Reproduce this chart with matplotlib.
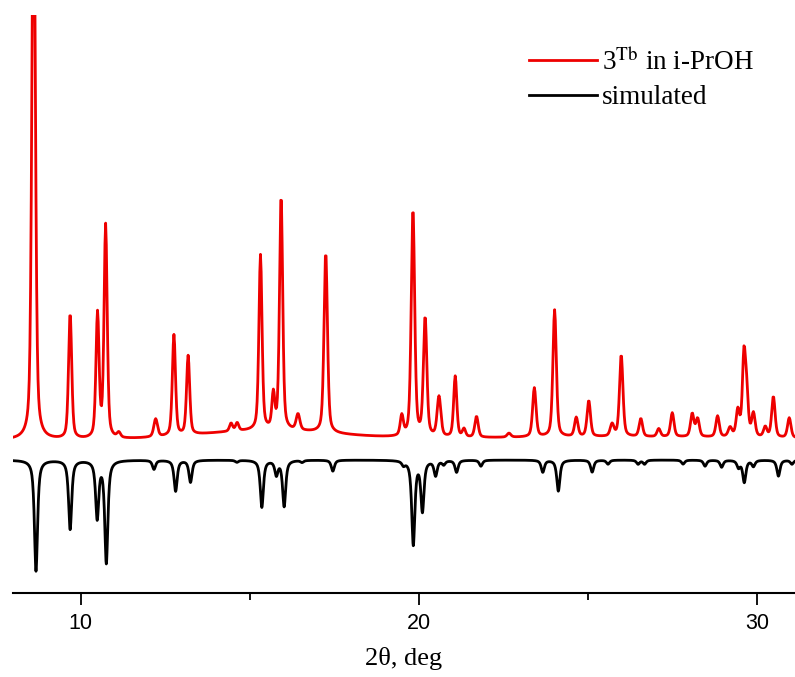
import matplotlib
matplotlib.use("Agg")
import matplotlib.pyplot as plt
import numpy as np
from matplotlib.ticker import FixedLocator

# peak lists: position (2theta), height, fwhm
exp_pos = [8.61, 9.69, 10.50, 10.74, 11.13, 12.22, 12.76, 13.18, 14.45, 14.63,
           15.32, 15.70, 15.93, 16.43, 17.25, 19.50, 19.83, 20.19, 20.60, 21.08,
           21.34, 21.71, 22.67, 23.42, 24.02, 24.66, 25.03, 25.72, 25.99, 26.57,
           27.10, 27.50, 28.09, 28.25, 28.84, 29.21, 29.44, 29.62, 29.70, 29.90,
           30.25, 30.49, 30.96]
exp_height = [600, 126, 124, 213, 5, 18, 101, 79, 8, 8,
              175, 34, 235, 16, 181, 20, 228, 119, 40, 61,
              8, 21, 4, 49, 127, 19, 36, 12, 82, 18,
              8, 24, 23, 18, 21, 9, 26, 79, 40, 23,
              10, 41, 20]
exp_width = [0.12, 0.11, 0.11, 0.11, 0.12, 0.13, 0.11, 0.11, 0.11, 0.11,
             0.11, 0.10, 0.11, 0.13, 0.12, 0.11, 0.12, 0.12, 0.13, 0.11,
             0.11, 0.12, 0.13, 0.12, 0.12, 0.12, 0.12, 0.13, 0.12, 0.12,
             0.12, 0.12, 0.12, 0.12, 0.12, 0.13, 0.12, 0.11, 0.11, 0.12,
             0.12, 0.12, 0.12]
# broad background humps of the measured pattern: centre, height, sigma
bg_pos = [15.5, 26.0]
bg_height = [9, 3]
bg_sigma = [2.0, 5.0]

sim_pos = [8.68, 9.69, 10.49, 10.76, 12.17, 12.81, 13.25, 14.62, 15.36, 15.79,
           16.02, 16.55, 17.46, 19.55, 19.84, 20.11, 20.50, 20.74, 21.12, 21.84,
           23.67, 24.13, 25.13, 25.60, 26.49, 26.68, 27.82, 28.47, 28.96, 29.46,
           29.63, 29.90, 30.64, 31.04]
sim_depth = [111, 69, 57, 102, 9, 31, 22, 2, 47, 14,
             46, 2, 11, 4, 84, 50, 15, 4, 12, 6,
             12, 31, 12, 4, 4, 4, 4, 6, 7, 7,
             22, 6, 16, 4]

exp_offset = 153
sim_offset = 133


def pseudo_voigt(x, x0, h, w, eta):
    g = np.exp(-4 * np.log(2) * ((x - x0) / w) ** 2)
    l = 1 / (1 + 4 * ((x - x0) / w) ** 2)
    return h * (eta * l + (1 - eta) * g)


x_exp = np.arange(7.9, 31.3, 0.02)
y_exp = np.full_like(x_exp, exp_offset, dtype=float)
for p, h, w in zip(exp_pos, exp_height, exp_width):
    y_exp += pseudo_voigt(x_exp, p, h, w, 0.45)
for p, h, s in zip(bg_pos, bg_height, bg_sigma):
    y_exp += h * np.exp(-0.5 * ((x_exp - p) / s) ** 2)

x_sim = np.arange(7.9, 31.3, 0.01)
y_sim = np.full_like(x_sim, sim_offset, dtype=float)
for p, d in zip(sim_pos, sim_depth):
    y_sim -= pseudo_voigt(x_sim, p, d, 0.11, 0.75)

plt.rcParams["mathtext.fontset"] = "stix"

fig = plt.figure(figsize=(7.95, 6.77), dpi=100)
ax = fig.add_axes([13 / 795, 1 - 593 / 677, 1 - 13 / 795, 578 / 677])

ax.plot(x_exp, y_exp, color="#ee0000", lw=2.0, label=r"3$^{\mathrm{Tb}}$ in i-PrOH")
ax.plot(x_sim, y_sim, color="black", lw=2.0, label="simulated")

ax.set_xlim(8.0, 31.13)
ax.set_ylim(0, 578)

for s in ["left", "right", "top"]:
    ax.spines[s].set_visible(False)
ax.spines["bottom"].set_linewidth(1.5)
ax.set_yticks([])
ax.set_xticks([10, 20, 30])
ax.xaxis.set_minor_locator(FixedLocator([15, 25]))
ax.tick_params(axis="x", which="major", direction="out", length=8.5, width=1.3, pad=6)
ax.tick_params(axis="x", which="minor", direction="out", length=5, width=1.3)
for lab in ax.get_xticklabels():
    lab.set_fontfamily("Liberation Sans")
    lab.set_fontsize(15.5)

ax.set_xlabel("2θ, deg", fontfamily="Liberation Serif", fontsize=19, labelpad=9)

leg = ax.legend(loc="upper left", bbox_to_anchor=(529 / 795, 1 - 48 / 677),
                bbox_transform=fig.transFigure, frameon=False,
                prop={"family": "Liberation Serif", "size": 19.5},
                handlelength=2.5, handletextpad=0.2, labelspacing=0.35,
                borderpad=0, borderaxespad=0)

fig.savefig("out.png", dpi=100)
